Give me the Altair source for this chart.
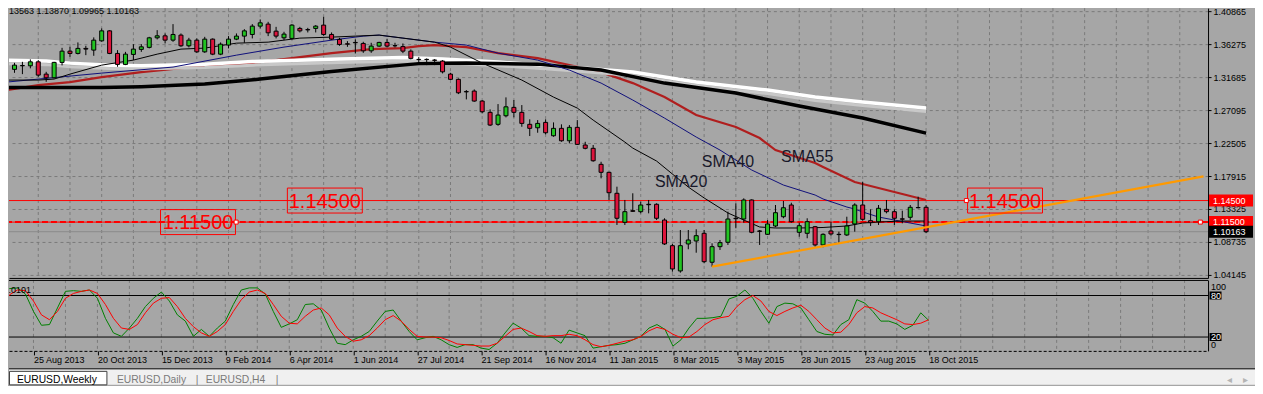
import altair as alt
import pandas as pd

# ---------------- data (weekly EURUSD, bar 116 = week of 18 Oct 2015)
bar_open = [1.3294,1.3276,1.3326,1.3326,1.3381,1.3210,1.3159,1.3373,1.3530,1.3498,
            1.3568,1.3544,1.3673,1.3812,1.3498,1.3345,1.3484,1.3554,1.3582,1.3715,
            1.3743,1.3683,1.3753,1.3604,1.3683,1.3520,1.3697,1.3488,1.3614,1.3697,
            1.3739,1.3762,1.3878,1.3906,1.3808,1.3715,1.3707,1.3846,1.3830,1.3846,
            1.3892,1.3762,1.3693,1.3632,1.3651,1.3637,1.3534,1.3600,1.3651,1.3607,
            1.3593,1.3530,1.3415,1.3415,1.3405,1.3391,1.3210,1.3137,1.2967,1.2974,
            1.2835,1.2678,1.2511,1.2630,1.2747,1.2678,1.2511,1.2463,1.2538,1.2352,
            1.2455,1.2282,1.2469,1.2223,1.2177,1.1954,1.1843,1.1551,1.1147,1.1309,
            1.1295,1.1398,1.1398,1.1179,1.0822,1.0470,1.0846,1.0887,1.0994,1.0591,
            1.0808,1.0869,1.1203,1.1193,1.1458,1.1026,1.0980,1.1096,1.1225,1.1388,
            1.1008,1.0994,1.1086,1.0832,1.1026,1.0980,1.0971,1.1124,1.1388,1.1170,
            1.1156,1.1328,1.1295,1.1196,1.1217,1.1353,1.13563]
bar_high = [1.3336,1.3367,1.3381,1.3415,1.3405,1.3242,1.3381,1.3576,1.3590,1.3651,
            1.3604,1.3721,1.3846,1.3822,1.3544,1.3520,1.3627,1.3627,1.3729,1.3822,
            1.3776,1.3906,1.3776,1.3715,1.3707,1.3729,1.3707,1.3651,1.3739,1.3776,
            1.3836,1.3906,1.3971,1.3938,1.3868,1.3799,1.3906,1.3868,1.3854,1.3892,
            1.4007,1.3790,1.3715,1.3669,1.3693,1.3660,1.3646,1.3660,1.3697,1.3646,
            1.3637,1.3554,1.3447,1.3429,1.3419,1.3405,1.3228,1.3150,1.2988,1.2997,
            1.2849,1.2719,1.2793,1.2886,1.2849,1.2779,1.2580,1.2570,1.2580,1.2538,
            1.2511,1.2501,1.2570,1.2268,1.2223,1.1990,1.1851,1.1643,1.1458,1.1551,
            1.1434,1.1458,1.1412,1.1203,1.0846,1.1040,1.1040,1.1050,1.1040,1.0855,
            1.0901,1.1295,1.1412,1.1481,1.1467,1.1040,1.1179,1.1388,1.1444,1.1420,
            1.1142,1.1203,1.1096,1.0994,1.1156,1.1017,1.1225,1.1412,1.1712,1.1328,
            1.1388,1.1458,1.1328,1.1309,1.1388,1.1504,1.13870]
bar_low = [1.3238,1.3228,1.3210,1.3290,1.3173,1.3103,1.3150,1.3331,1.3451,1.3484,
           1.3474,1.3465,1.3660,1.3488,1.3312,1.3335,1.3405,1.3520,1.3568,1.3693,
           1.3637,1.3660,1.3590,1.3582,1.3506,1.3506,1.3474,1.3474,1.3568,1.3683,
           1.3646,1.3707,1.3846,1.3739,1.3707,1.3683,1.3693,1.3790,1.3790,1.3790,
           1.3743,1.3683,1.3604,1.3590,1.3498,1.3506,1.3506,1.3590,1.3582,1.3582,
           1.3502,1.3415,1.3363,1.3335,1.3335,1.3220,1.3127,1.2932,1.2858,1.2825,
           1.2664,1.2487,1.2491,1.2608,1.2608,1.2477,1.2348,1.2394,1.2371,1.2338,
           1.2268,1.2246,1.2223,1.2163,1.1990,1.1759,1.1458,1.1110,1.1110,1.1291,
           1.1272,1.1272,1.1179,1.0832,1.0460,1.0446,1.0772,1.0724,1.0577,1.0530,
           1.0762,1.0832,1.1064,1.1142,1.0994,1.0832,1.0971,1.1078,1.1203,1.1142,
           1.0947,1.0925,1.0808,1.0800,1.0961,1.0855,1.0957,1.1017,1.1170,1.1096,
           1.1110,1.1272,1.1110,1.1133,1.1179,1.1341,1.09965]
bar_close = [1.3290,1.3335,1.3330,1.3381,1.3196,1.3159,1.3373,1.3530,1.3498,1.3568,
             1.3558,1.3683,1.3812,1.3498,1.3345,1.3488,1.3558,1.3590,1.3715,1.3743,
             1.3683,1.3762,1.3604,1.3683,1.3520,1.3697,1.3488,1.3627,1.3697,1.3739,
             1.3812,1.3878,1.3924,1.3785,1.3739,1.3767,1.3892,1.3812,1.3826,1.3878,
             1.3762,1.3697,1.3623,1.3627,1.3646,1.3534,1.3600,1.3651,1.3600,1.3604,
             1.3530,1.3429,1.3412,1.3413,1.3402,1.3242,1.3137,1.2950,1.2963,1.2835,
             1.2686,1.2501,1.2640,1.2755,1.2678,1.2524,1.2455,1.2524,1.2394,1.2455,
             1.2282,1.2469,1.2232,1.2177,1.2004,1.1843,1.1559,1.1203,1.1295,1.1300,
             1.1388,1.1392,1.1203,1.0846,1.0498,1.0822,1.0901,1.0961,1.0599,1.0808,
             1.0864,1.1193,1.1197,1.1458,1.1008,1.1022,1.1124,1.1281,1.1350,1.1156,
             1.1100,1.1156,1.0832,1.0980,1.0985,1.0976,1.1096,1.1388,1.1189,1.1142,
             1.1342,1.1295,1.1203,1.1190,1.1356,1.1350,1.10163]

sma20_bar = [0,4,6,8,12,16,19,22,25,29,33,37,41,44,47,50,54,56,60,65,
             69,72,74,76,78,79,82,86,88,91,93,95,97,100,103,106,108,110,113,116]
sma20_val = [1.3127,1.3127,1.3141,1.3210,1.3335,1.3405,1.3488,1.3558,1.3572,1.3641,
             1.3655,1.3711,1.3725,1.3739,1.3753,1.3711,1.3655,1.3586,1.3363,1.3127,
             1.2890,1.2737,1.2570,1.2417,1.2264,1.2180,1.2000,1.1638,1.1486,1.1277,
             1.1179,1.1082,1.1068,1.1068,1.1075,1.1096,1.1137,1.1151,1.1165,1.1165]
sma40_bar = [0,12,21,29,35,41,45,47,50,54,58,62,67,71,75,79,83,87,90,94,
             98,102,103,106,107,108,110,112,114,116]
sma40_val = [1.3099,1.3224,1.3308,1.3474,1.3586,1.3683,1.3739,1.3753,1.3711,1.3655,
             1.3614,1.3502,1.3405,1.3266,1.3085,1.2849,1.2598,1.2334,1.2153,1.1875,
             1.1666,1.1527,1.1472,1.1360,1.1332,1.1291,1.1221,1.1179,1.1137,1.1096]
sma55_bar = [0,4,8,12,17,22,31,35,41,46,50,52,54,58,62,67,71,75,79,83,
             87,92,95,97,102,103,107,112,116]
sma55_val = [1.2988,1.3057,1.3099,1.3168,1.3238,1.3294,1.3363,1.3419,1.3502,1.3558,
             1.3572,1.3600,1.3614,1.3586,1.3502,1.3433,1.3335,1.3238,1.3085,1.2890,
             1.2640,1.2473,1.2320,1.2153,1.1972,1.1917,1.1708,1.1569,1.1458]
white_bar = [0,5,8,13,17,25,31,42,50,55,62,71,79,87,96,102,108,116]
white_val = [1.3405,1.3391,1.3363,1.3335,1.3328,1.3349,1.3384,1.3419,1.3440,1.3419,
             1.3377,1.3308,1.3238,1.3099,1.2988,1.2890,1.2821,1.2737]
silver_val = [1.3356,1.3342,1.3314,1.3287,1.3280,1.3301,1.3335,1.3370,1.3391,1.3370,
              1.3328,1.3259,1.3189,1.3050,1.2939,1.2842,1.2772,1.2688]
sma200_bar = [0,12,17,25,32,41,52,58,67,75,83,92,100,108,116]
sma200_val = [1.3022,1.3022,1.3034,1.3071,1.3141,1.3245,1.3356,1.3363,1.3349,1.3266,
              1.3085,1.2946,1.2765,1.2598,1.2389]

trend_bar = [89, 151]
trend_price = [1.0530, 1.1787]

stoch_k = [88,90,91,82,57,37,38,62,86,87, 86,88,76,47,26,21,33,47,64,76,
           85,72,52,43,21,31,21,33,43,67, 88,91,91,82,57,34,39,45,67,68,
           59,33,11,9,16,21,28,43,57,59, 43,28,16,19,21,16,9,5,9,9,
           4,2,11,26,40,33,22,21,21,19, 11,30,26,22,4,6,8,9,11,
           16,21,33,38,31,7,16,33,47,47,48, 50,75,79,88,76,57,40,64,69,68,
           62,45,28,24,23,38,45,74,69,57, 43,43,39,31,37,55,44]
stoch_d = [62,81,88,87,72,52,45,57,76,83, 86,88,83,67,47,33,31,38,55,69,
           76,77,64,47,35,26,21,28,38,57, 74,85,88,83,67,50,40,39,50,59,
           62,52,33,21,14,16,22,33,45,51, 43,31,21,20,20,19,15,10,9,8,
           7,7,11,21,31,33,28,22,21,22, 22,24,22,16,9,6,8,11,14,
           16,21,29,34,31,24,19,20,28,38,45, 48,50,64,74,80,72,57,51,57,62,
           66,57,45,33,26,27,38,55,64,62, 55,50,45,39,38,40,45]
stoch_levels = [20, 80]

price_ticks = [1.04145, 1.08735, 1.13325, 1.17915, 1.22505, 1.27095, 1.31685, 1.36275, 1.40865]
date_ticks = [4, 12, 20, 28, 36, 44, 52, 60, 68, 76, 84, 92, 100, 108, 116]
date_labels = ["25 Aug 2013", "20 Oct 2013", "15 Dec 2013", "9 Feb 2014", "6 Apr 2014",
               "1 Jun 2014", "27 Jul 2014", "21 Sep 2014", "16 Nov 2014", "11 Jan 2015",
               "8 Mar 2015", "3 May 2015", "28 Jun 2015", "23 Aug 2015", "18 Oct 2015"]
grid_bars = list(range(4, 151, 4))

level_upper = 1.14500
level_lower = 1.11500
bid_price = bar_close[-1]

box_bar = [40.15, 24.15, 125.96]
box_price = [1.14500, 1.11500, 1.14500]
box_text = ["1.14500", "1.11500", "1.14500"]
anchor_bar = [28.96, 121.08, 150.6]
anchor_price = [1.11500, 1.14500, 1.11500]
ma_label_bar = [85.1, 91.0, 101.0]
ma_label_price = [1.1712, 1.1986, 1.2056]
ma_label_text = ["SMA20", "SMA40", "SMA55"]
axis_tag_price = [1.14500, 1.11500, bid_price]
axis_tag_text = ["1.14500", "1.11500", "%.5f" % bid_price]

# ---------------- style
FONT = "Liberation Sans, Arial, sans-serif"
BG = "#a6a6a6"
GRID = "#7a7a7a"
GREEN = "#22c422"
RED = "#dc143c"
W = 1200
H_MAIN = 270
H_STO = 71
X_DOMAIN = [0.9375, 150.9375]
P_DOMAIN = [1.03728, 1.41282]
S_DOMAIN = [0, 102.5]
GUARD = 10

one = pd.DataFrame({"k": [0]})

xaxis_main = alt.Axis(orient="bottom", labels=False, ticks=False, domain=True,
                      domainColor="#000000", grid=False, title=None)
yaxis_main = alt.Axis(orient="right", values=price_ticks, format=".5f", labelFont=FONT,
                      labelFontSize=9, labelColor="#000000", tickSize=3, tickColor="#000000",
                      labelPadding=2, domain=True, domainColor="#000000", grid=True,
                      gridColor=GRID, gridDash=[3, 3], title=None, labelOverlap=False)


def XM(f="i"):
    return alt.X(f"{f}:Q", scale=alt.Scale(domain=X_DOMAIN, nice=False, zero=False), axis=xaxis_main)


def YM(f="p"):
    return alt.Y(f"{f}:Q", scale=alt.Scale(domain=P_DOMAIN, nice=False, zero=False), axis=yaxis_main)


label_expr = "''"
for t, l in reversed(list(zip(date_ticks, date_labels))):
    label_expr = f"datum.value == {t} ? '{l}' : ({label_expr})"

xaxis_sto = alt.Axis(orient="bottom", values=date_ticks, labelExpr=label_expr, labelAlign="left",
                     labelBaseline="top", labelFont=FONT, labelFontSize=9, labelColor="#000000",
                     tickSize=4, tickColor="#000000", labelPadding=1, domain=True,
                     domainColor="#000000", domainDash=[3, 2], grid=False, labelFlush=False,
                     labelOverlap=False, title=None)
yaxis_sto = alt.Axis(orient="right", labels=False, ticks=False, domain=True,
                     domainColor="#000000", grid=False, title=None)


def XS(f="i"):
    return alt.X(f"{f}:Q", scale=alt.Scale(domain=X_DOMAIN, nice=False, zero=False), axis=xaxis_sto)


def YS(f="v"):
    return alt.Y(f"{f}:Q", scale=alt.Scale(domain=S_DOMAIN, nice=False, zero=False), axis=yaxis_sto)


# ---------------- main panel
n = len(bar_open)
candles = pd.DataFrame({"i": list(range(n)), "o": bar_open, "h": bar_high, "l": bar_low, "c": bar_close})
grid_df = pd.DataFrame({"i": grid_bars})


def ma(bars_, vals, color, width):
    return alt.Chart(pd.DataFrame({"i": bars_, "p": vals})).mark_line(
        color=color, strokeWidth=width, clip=True).encode(x=XM(), y=YM())


def hline(p, **kw):
    return alt.Chart(pd.DataFrame({"p": [p]})).mark_rule(clip=True, **kw).encode(y=YM())


# guard strip above the plot so the top of the canvas is fixed (cropped by the negative padding)
guard = alt.Chart(one).mark_rect(color=BG).encode(
    x=alt.value(0), x2=alt.value(10), y=alt.value(-GUARD), y2=alt.value(0))

grid_main = alt.Chart(grid_df).mark_rule(color=GRID, strokeDash=[3, 3], strokeWidth=1).encode(x=XM())

bid = hline(bid_price, color="#8a8a8a", strokeWidth=1)
lvl_up = hline(level_upper, color="#ff0000", strokeWidth=1)
lvl_lo = hline(level_lower, color="#ff0000", strokeWidth=1)
lvl_lo_dash = hline(level_lower, color="#ff0000", strokeWidth=2, strokeDash=[6, 3])

ma55 = ma(sma55_bar, sma55_val, "#b01e1e", 2.2)
silver = ma(white_bar, silver_val, "#c8c8c8", 3)
white = ma(white_bar, white_val, "#ffffff", 3.5)
ma200 = ma(sma200_bar, sma200_val, "#000000", 3.5)
ma40 = ma(sma40_bar, sma40_val, "#10107a", 1)
ma20 = ma(sma20_bar, sma20_val, "#000000", 1)

wicks = alt.Chart(candles).mark_rule(color="#000000", strokeWidth=1, clip=True).encode(
    x=XM(), y=YM("l"), y2="h")
bodies = alt.Chart(candles).mark_bar(size=4, stroke="#000000", strokeWidth=1, clip=True).encode(
    x=XM(), y=YM("o"), y2="c",
    color=alt.condition("datum.c >= datum.o", alt.value(GREEN), alt.value(RED)))

trend = alt.Chart(pd.DataFrame({"i": trend_bar, "p": trend_price})).mark_line(
    color="#ff9a00", strokeWidth=2.2, clip=True).encode(x=XM(), y=YM())

boxes_df = pd.DataFrame({"i": box_bar, "p": box_price, "t": box_text})
boxes = alt.Chart(boxes_df).mark_point(shape="M-1,-0.3333H1V0.3333H-1Z", size=5625, filled=False,
                                       color="#ff0000", strokeWidth=1, opacity=1).encode(x=XM(), y=YM())
box_txt = alt.Chart(boxes_df).mark_text(font=FONT, fontSize=20, color="#ff0000", align="center",
                                        baseline="middle", dy=1).encode(x=XM(), y=YM(), text="t:N")
anchors = alt.Chart(pd.DataFrame({"i": anchor_bar, "p": anchor_price})).mark_point(
    shape="square", size=16, filled=True, fill="#ffffff", stroke="#ff0000", strokeWidth=1,
    opacity=1).encode(x=XM(), y=YM())
ma_txt = alt.Chart(pd.DataFrame({"i": ma_label_bar, "p": ma_label_price, "t": ma_label_text})).mark_text(
    font=FONT, fontSize=16, color="#18182a", align="center", baseline="middle").encode(
    x=XM(), y=YM(), text="t:N")

header = "EURUSD,Weekly  %.5f %.5f %.5f %.5f" % (bar_open[-1], bar_high[-1], bar_low[-1], bar_close[-1])
head_txt = alt.Chart(one).mark_text(font=FONT, fontSize=9, color="#000000", align="right",
                                    baseline="middle", clip=True).encode(
    x=alt.value(130), y=alt.value(3), text=alt.value(header))

tags_df = pd.DataFrame({"p": axis_tag_price, "t": axis_tag_text})
tag_box = alt.Chart(tags_df).mark_point(shape="M-1,-0.2727H1V0.2727H-1Z", size=1936, filled=True,
                                        strokeWidth=0, opacity=1).encode(
    x=alt.value(1223), y=YM(),
    color=alt.condition("datum.t == '%s'" % axis_tag_text[-1], alt.value("#000000"), alt.value("#ff0000")))
tag_txt = alt.Chart(tags_df).mark_text(font=FONT, fontSize=9, color="#ffffff", align="left",
                                       baseline="middle").encode(x=alt.value(1205), y=YM(), text="t:N")

main = alt.layer(guard, grid_main, bid, lvl_up, lvl_lo, lvl_lo_dash, ma55, silver, white, ma200, ma40,
                 ma20, wicks, bodies, trend, boxes, box_txt, anchors, ma_txt, head_txt, tag_box, tag_txt
                 ).properties(width=W, height=H_MAIN)

# ---------------- stochastic panel
sto_df = pd.DataFrame({"i": list(range(n)), "k": stoch_k, "d": stoch_d})
grid_sto = alt.Chart(grid_df).mark_rule(color=GRID, strokeDash=[3, 3], strokeWidth=1).encode(x=XS())
levels = alt.Chart(pd.DataFrame({"v": stoch_levels})).mark_rule(color="#000000", strokeWidth=1).encode(y=YS())
top_border = alt.Chart(one).mark_rule(color="#000000", strokeWidth=1).encode(
    x=alt.value(0), x2=alt.value(W), y=alt.value(0.5))
k_line = alt.Chart(sto_df).mark_line(color="#008000", strokeWidth=1, clip=True).encode(x=XS(), y=YS("k"))
d_line = alt.Chart(sto_df).mark_line(color="#ff0000", strokeWidth=1, clip=True).encode(x=XS(), y=YS("d"))
sto_title = alt.Chart(one).mark_text(font=FONT, fontSize=9, color="#000000", align="right",
                                     baseline="middle", clip=True).encode(
    x=alt.value(22), y=alt.value(10), text=alt.value("Stoch(14,3,3) %.4f" % (stoch_k[-1] + 0.0101)))
lvl_box = alt.Chart(pd.DataFrame({"v": stoch_levels})).mark_point(
    shape="M-1,-0.6667H1V0.6667H-1Z", size=144, filled=True, color="#000000", strokeWidth=0,
    opacity=1).encode(x=alt.value(1207.5), y=YS())
lvl_txt = alt.Chart(pd.DataFrame({"v": stoch_levels})).mark_text(
    font=FONT, fontSize=9, color="#ffffff", align="left", baseline="middle").encode(
    x=alt.value(1203), y=YS(), text="v:N")
end_txt = alt.Chart(pd.DataFrame({"t": ["100", "0"], "y": [7, 65]})).mark_text(
    font=FONT, fontSize=9, color="#000000", align="left", baseline="middle").encode(
    x=alt.value(1203), y=alt.Y("y:Q", scale=None, axis=None), text="t:N")

# tab bar under the chart
bar_line = alt.Chart(one).mark_rect(color="#1a1a1a").encode(
    x=alt.value(0), x2=alt.value(1247), y=alt.value(88.5), y2=alt.value(89.5))
bar_bg = alt.Chart(one).mark_rect(color="#f0f0f0").encode(
    x=alt.value(0), x2=alt.value(1247), y=alt.value(90), y2=alt.value(105))
tab_sel = alt.Chart(one).mark_rect(fill="#ffffff", stroke="#404040", strokeWidth=1).encode(
    x=alt.value(0.5), x2=alt.value(98), y=alt.value(91.5), y2=alt.value(105))
tabs_df = pd.DataFrame({"t": ["EURUSD,Weekly", "EURUSD,Daily", "|", "EURUSD,H4", "|", "\u25c2", "\u25b8"],
                        "x": [8, 108, 187, 197, 267, 1219, 1235],
                        "c": ["sel", "n", "n", "n", "n", "a", "a"]})
tabs_txt = alt.Chart(tabs_df).mark_text(font=FONT, fontSize=10.3, align="left", baseline="middle").encode(
    x=alt.X("x:Q", scale=None, axis=None), y=alt.value(100), text="t:N",
    color=alt.Color("c:N", scale=alt.Scale(domain=["sel", "n", "a"], range=["#000000", "#7a7a7a", "#b4b4b4"]),
                    legend=None))

sto = alt.layer(grid_sto, levels, top_border, k_line, d_line, sto_title, lvl_box, lvl_txt, end_txt,
                bar_line, bar_bg, tab_sel, tabs_txt).properties(width=W, height=H_STO)

chart = alt.vconcat(main, sto, spacing=2, bounds="flush").properties(
    padding={"left": 0, "top": -GUARD, "right": 0, "bottom": 0},
    background=BG).configure_view(strokeWidth=0, fill=BG)

chart.save("out.html", embed_options={"renderer": "svg", "actions": False})
